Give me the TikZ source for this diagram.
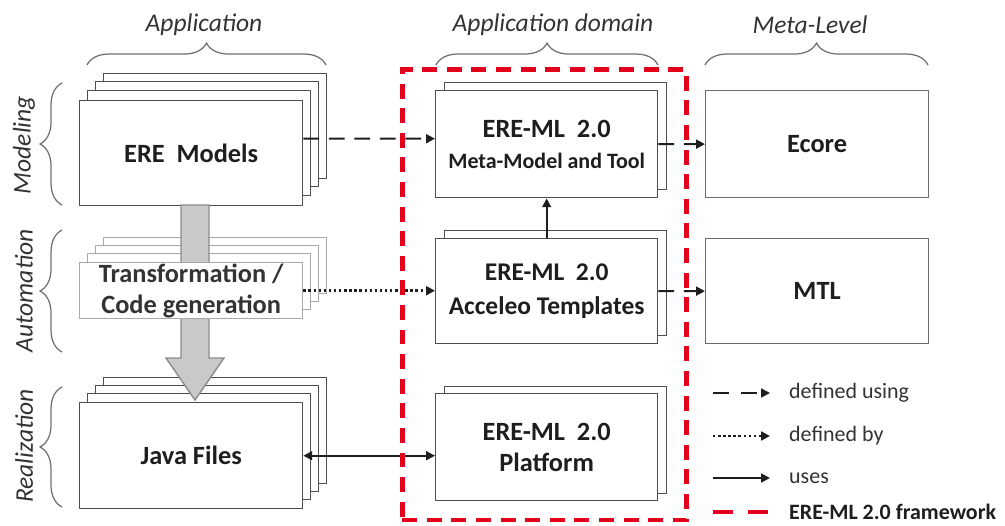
\documentclass[tikz,border=0pt]{standalone}
\usepackage{fontspec}
\setmainfont{Carlito}
\usetikzlibrary{arrows.meta,decorations.pathreplacing}
\definecolor{boxline}{HTML}{4D4D4D}
\definecolor{lightline}{HTML}{A8A8A8}
\definecolor{metaline}{HTML}{6B6B6B}
\definecolor{arrowfill}{HTML}{C9C9C9}
\definecolor{arrowedge}{HTML}{8C8C8C}
\definecolor{frame}{HTML}{E2001A}
\definecolor{bracecol}{HTML}{6E6E6E}
\definecolor{labelcol}{HTML}{333333}
\definecolor{textcol}{HTML}{1E1E1E}
\newcommand\szBig{\fontsize{15}{17.6}\selectfont\bfseries}
\newcommand\szSub{\fontsize{12.5}{17.6}\selectfont\bfseries}
\newcommand\szTwo{\fontsize{14.5}{19.3}\selectfont\bfseries}
\newcommand\szLab{\fontsize{14.5}{17}\selectfont\itshape}
\newcommand\szLeg{\fontsize{12.5}{15}\selectfont}
\begin{document}
\begin{tikzpicture}[x=0.02cm,y=-0.02cm,
  layer/.style={draw=boxline, fill=white, line width=0.8pt, inner sep=0pt, anchor=north west, minimum width=4.46cm, text=textcol, align=center},
  applayer/.style={layer, minimum height=2.1cm},
  javalayer/.style={layer, minimum height=2.12cm},
  translayer/.style={layer, draw=lightline, minimum height=1.12cm, text=labelcol},
  midlayer/.style={layer, minimum width=4.44cm, minimum height=2.14cm},
  metabox/.style={layer, draw=metaline, line width=0.7pt, minimum height=2.14cm},
  usearrow/.style={line width=1.1pt, draw=textcol, -{Triangle[length=5pt,width=5pt]}},
  dasharrow/.style={usearrow, dash pattern=on 9pt off 5.5pt},
  dotarrow/.style={usearrow, line width=1.4pt, dash pattern=on 1.4pt off 1.5pt},
  bothuse/.style={line width=1.1pt, draw=textcol, {Triangle[length=5pt,width=5pt]}-{Triangle[length=5pt,width=5pt]}},
  bracedraw/.style={draw=bracecol, line width=0.7pt, decorate, decoration={brace, amplitude=12.5pt}},
  toplabel/.style={font=\szLab, text=labelcol},
  sidelabel/.style={font=\szLab, text=labelcol, rotate=90}
]
\useasboundingbox (0,0) rectangle (1005,525);

% ---- top labels and braces
\node[toplabel] (labApp) at (204,25) {Application};
\node[toplabel] (labDom) at (553,25) {Application domain};
\node[toplabel] (labMeta) at (810,25) {Meta-Level};
\draw[bracedraw] (87,65) -- (326,65);
\draw[bracedraw] (436,65) -- (658,65);
\draw[bracedraw] (705,65) -- (928,65);

% ---- side labels and braces
\node[sidelabel] (labMod) at (24,145) {Modeling};
\node[sidelabel] (labAut) at (24,291) {Automation};
\node[sidelabel] (labRea) at (24,446) {Realization};
\draw[bracedraw] (62,205) -- (62,83);
\draw[bracedraw] (62,352) -- (62,230);
\draw[bracedraw] (62,507) -- (62,387);

% ---- ERE Models stack
\node[applayer] (models3) at (103,73) {};
\node[applayer] (models2) at (95,81) {};
\node[applayer] (models1) at (87,90) {};
\node[applayer, font=\szBig] (models) at (79,100) {ERE~ Models};

% ---- Java Files back layers
\node[javalayer] (java3) at (103,377) {};
\node[javalayer] (java2) at (95,385) {};
\node[javalayer] (java1) at (87,393) {};

% ---- Transformation back layers
\node[translayer] (trans3) at (103,237) {};
\node[translayer] (trans2) at (95,245) {};
\node[translayer] (trans1) at (87,253) {};

% ---- big gray arrow
\draw[fill=arrowfill, draw=arrowedge, line width=0.8pt]
  (181,205) -- (181,358) -- (166,358) -- (195,400) -- (224,358) -- (209,358) -- (209,205) -- cycle;

% ---- front boxes of left column
\node[translayer, font=\fontsize{15}{17.6}\selectfont\bfseries, text=labelcol] (trans) at (79,262) {Transformation /\\Code generation};
\node[javalayer, font=\szBig] (java) at (79,402) {Java Files};

% ---- middle column
\node[midlayer] (mm1) at (444,82) {};
\node[midlayer, font=\fontsize{15}{17.8}\selectfont\bfseries] (mm) at (435,90) {ERE-ML~ 2.0\\{\szSub Meta-Model and Tool}};
\node[midlayer, minimum height=2.1cm] (acc1) at (444,230) {};
\node[midlayer, minimum height=2.1cm, font=\fontsize{14.5}{19.3}\selectfont\bfseries] (acc) at (435,238) {ERE-ML~ 2.0\\Acceleo Templates};
\node[midlayer] (plat1) at (444,386) {};
\node[midlayer, font=\fontsize{15}{17.6}\selectfont\bfseries] (plat) at (435,393) {ERE-ML~ 2.0\\Platform};

% ---- meta level
\node[metabox, font=\szBig] (ecore) at (705,90) {Ecore};
\node[metabox, minimum height=2.1cm, font=\szBig] (mtl) at (705,238) {MTL};

% ---- connectors
\draw[dasharrow] ([yshift=0.29cm]models.east) -- ([yshift=0.11cm]mm.west);
\draw[dotarrow] (trans.east) -- (trans.east -| acc.west);
\draw[bothuse] (java.east) -- (java.east -| plat.west);
\draw[usearrow] (acc.north) -- (mm.south);
\draw[dasharrow] (mm.east) -- (ecore.west);
\draw[dasharrow] (acc.east) -- (mtl.west);

% ---- framework frame
\node[draw=frame, line width=2.6pt, dash pattern=on 8.5pt off 5.5pt, minimum width=5.68cm, minimum height=9.02cm, anchor=north west, inner sep=0pt] (framework) at (400,67) {};

% ---- legend
\coordinate (l1a) at (713,393); \coordinate (l1b) at (770,393);
\coordinate (l2a) at (713,436); \coordinate (l2b) at (770,436);
\coordinate (l3a) at (713,478); \coordinate (l3b) at (770,478);
\coordinate (l4a) at (713,512); \coordinate (l4b) at (770,512);
\draw[usearrow, dash pattern=on 9pt off 7pt] (l1a) -- (l1b);
\draw[dotarrow] (l2a) -- (l2b);
\draw[usearrow] (l3a) -- (l3b);
\draw[draw=frame, line width=2.6pt, dash pattern=on 11.3pt off 8.5pt] (l4a) -- (l4b);
\node[anchor=west, font=\szLeg, text=labelcol] (t1) at (783,393) {defined using};
\node[anchor=west, font=\szLeg, text=labelcol] (t2) at (783,436) {defined by};
\node[anchor=west, font=\szLeg, text=labelcol] (t3) at (783,478) {uses};
\node[anchor=west, font=\szLeg\bfseries, text=textcol] (t4) at (783,512) {ERE-ML 2.0 framework};
\end{tikzpicture}
\end{document}
